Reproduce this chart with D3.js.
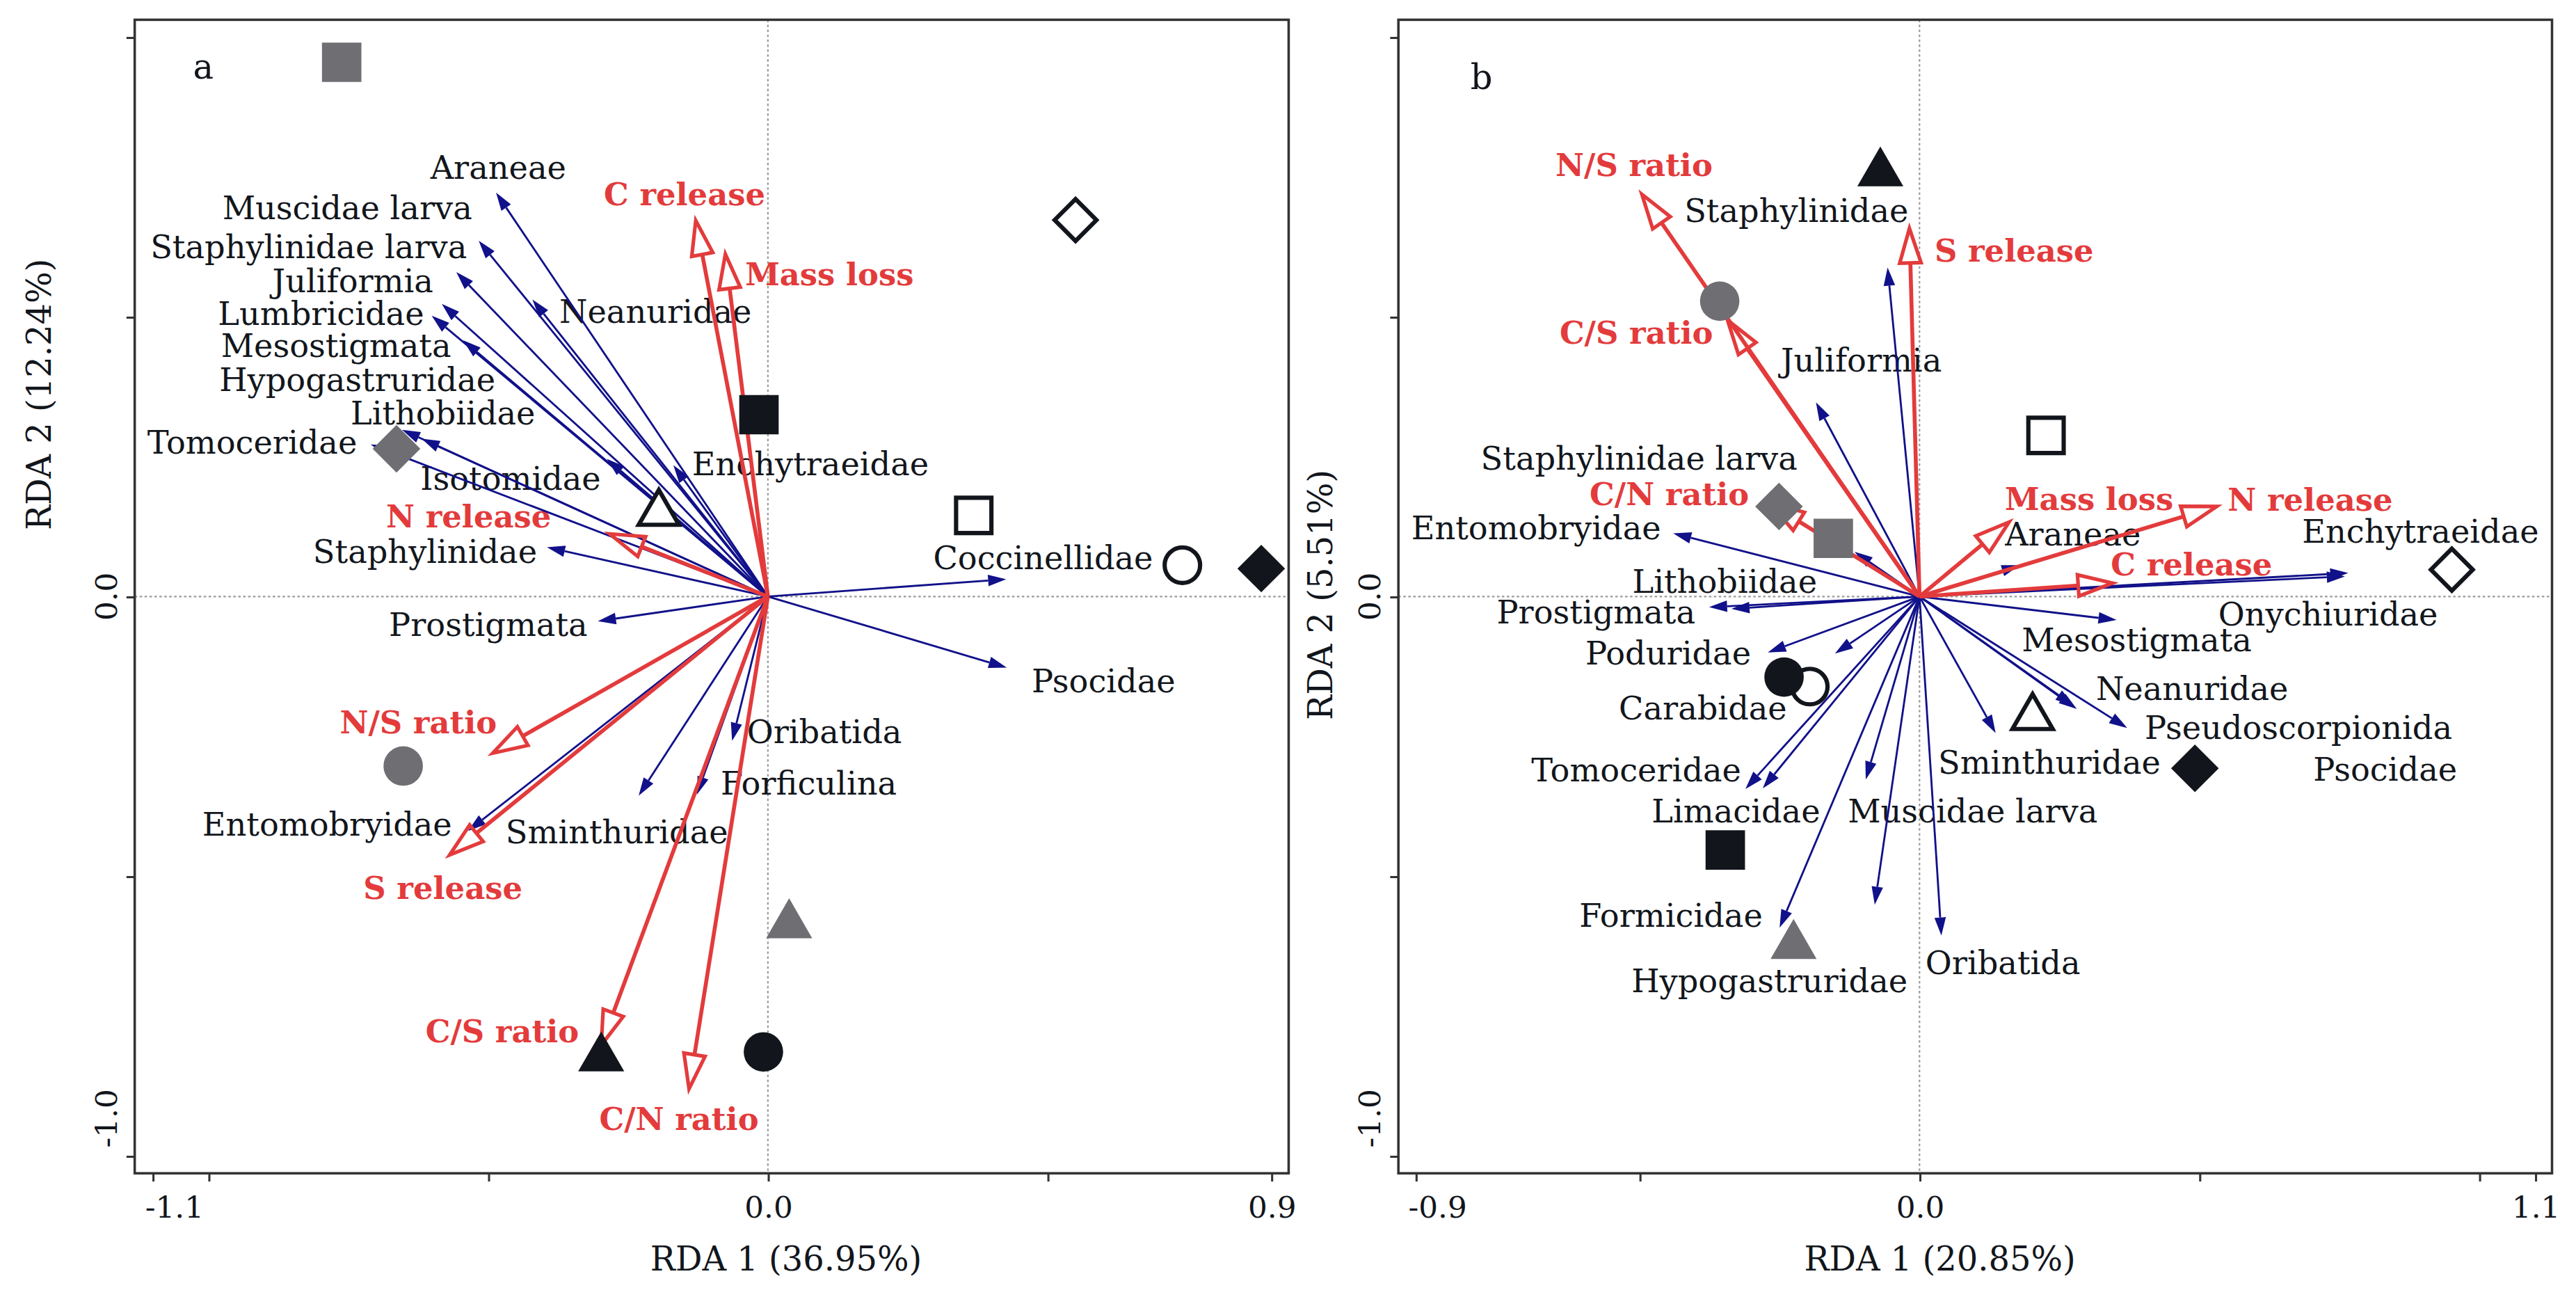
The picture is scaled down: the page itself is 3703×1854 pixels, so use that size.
<!DOCTYPE html>
<html>
<head>
<meta charset="utf-8">
<script src="https://cdn.jsdelivr.net/npm/d3@7"></script>
<style>
  body { margin: 0; background: #fff; }
  svg { display: block; }
</style>
</head>
<body>
<svg id="chart"></svg>
<script>
// ---- data (RDA scores) ----
const speciesA = [
  ["Araneae", -0.486, 0.722],
  ["Muscidae larva", -0.517, 0.636],
  ["Staphylinidae larva", -0.557, 0.580],
  ["Juliformia", -0.583, 0.523],
  ["Lumbricidae", -0.601, 0.502],
  ["Mesostigmata", -0.545, 0.458],
  ["Hypogastruridae", -0.619, 0.282],
  ["Lithobiidae", -0.654, 0.298],
  ["Tomoceridae", -0.710, 0.272],
  ["Neanuridae", -0.421, 0.531],
  ["Isotomidae", -0.288, 0.246],
  ["Enchytraeidae", -0.169, 0.235],
  ["Staphylinidae", -0.395, 0.088],
  ["Prostigmata", -0.304, -0.044],
  ["Entomobryidae", -0.536, -0.419],
  ["Sminthuridae", -0.231, -0.356],
  ["Oribatida", -0.064, -0.258],
  ["Forficulina", -0.127, -0.354],
  ["Coccinellidae", 0.426, 0.031],
  ["Psocidae", 0.427, -0.127]
];

const envA = [
  ["C release", -0.129, 0.672],
  ["Mass loss", -0.076, 0.612],
  ["N release", -0.283, 0.112],
  ["N/S ratio", -0.492, -0.280],
  ["S release", -0.569, -0.462],
  ["C/S ratio", -0.298, -0.802],
  ["C/N ratio", -0.141, -0.880]
];

// [shape, fill, x, y]
const sitesA = [
  ["square", "gray", -0.762, 0.955],
  ["diamond", "open", 0.550, 0.673],
  ["square", "black", -0.016, 0.325],
  ["square", "open", 0.368, 0.145],
  ["circle", "open", 0.741, 0.056],
  ["diamond", "black", 0.882, 0.050],
  ["diamond", "gray", -0.664, 0.264],
  ["triangle", "open", -0.195, 0.149],
  ["circle", "gray", -0.652, -0.303],
  ["triangle", "gray", 0.038, -0.587],
  ["triangle", "black", -0.298, -0.825],
  ["circle", "black", -0.008, -0.814]
];

const speciesB = [
  ["Staphylinidae", -0.057, 0.588],
  ["Juliformia", -0.185, 0.347],
  ["Staphylinidae larva", -0.116, 0.080],
  ["Entomobryidae", -0.440, 0.113],
  ["Lithobiidae", -0.336, -0.022],
  ["Prostigmata", -0.376, -0.019],
  ["Poduridae", -0.271, -0.100],
  ["Carabidae", -0.151, -0.102],
  ["Tomoceridae", -0.311, -0.344],
  ["Limacidae", -0.280, -0.343],
  ["Formicidae", -0.250, -0.592],
  ["Hypogastruridae", -0.080, -0.551],
  ["Muscidae larva", -0.096, -0.327],
  ["Oribatida", 0.039, -0.606],
  ["Sminthuridae", 0.136, -0.244],
  ["Pseudoscorpionida", 0.371, -0.235],
  ["Psocidae", 0.275, -0.195],
  ["Neanuridae", 0.281, -0.201],
  ["Mesostigmata", 0.352, -0.042],
  ["Onychiuridae", 0.760, 0.036],
  ["Enchytraeidae", 0.766, 0.042],
  ["Araneae", 0.179, 0.056]
];

const envB = [
  ["N/S ratio", -0.496, 0.719],
  ["C/S ratio", -0.343, 0.494],
  ["S release", -0.018, 0.658],
  ["C/N ratio", -0.268, 0.167],
  ["Mass loss", 0.160, 0.133],
  ["N release", 0.531, 0.161],
  ["C release", 0.345, 0.024]
];

const sitesB = [
  ["triangle", "black", -0.070, 0.757],
  ["circle", "gray", -0.357, 0.528],
  ["square", "open", 0.226, 0.288],
  ["diamond", "gray", -0.251, 0.161],
  ["square", "gray", -0.154, 0.104],
  ["circle", "open", -0.196, -0.161],
  ["circle", "black", -0.242, -0.144],
  ["square", "black", -0.347, -0.453],
  ["triangle", "gray", -0.225, -0.624],
  ["triangle", "open", 0.202, -0.216],
  ["diamond", "black", 0.492, -0.307],
  ["diamond", "open", 0.951, 0.048]
];

const xTicksA = [-1.1, -1.0, -0.5, 0.0, 0.5, 0.9];
const xTickLabelsA = ["-1.1", "", "", "0.0", "", "0.9"];
const xTicksB = [-0.9, -0.5, 0.0, 0.5, 1.0, 1.1];
const xTickLabelsB = ["-0.9", "", "0.0", "", "", "1.1"];
const yTicks = [1.0, 0.5, 0.0, -0.5, -1.0];
const yTickLabels = ["", "", "0.0", "", "-1.0"];

// label anchors (centre x, baseline y) in axis units
const labelPosA = {
  "Araneae": [-0.482, 0.747], "Muscidae larva": [-0.752, 0.675],
  "Staphylinidae larva": [-0.821, 0.605], "Juliformia": [-0.742, 0.544],
  "Lumbricidae": [-0.799, 0.486], "Mesostigmata": [-0.772, 0.428],
  "Hypogastruridae": [-0.734, 0.367], "Lithobiidae": [-0.581, 0.308],
  "Tomoceridae": [-0.922, 0.256], "Neanuridae": [-0.201, 0.489],
  "Isotomidae": [-0.460, 0.191], "Enchytraeidae": [0.076, 0.217],
  "Staphylinidae": [-0.613, 0.060], "Prostigmata": [-0.500, -0.070],
  "Entomobryidae": [-0.788, -0.428], "Sminthuridae": [-0.270, -0.441],
  "Oribatida": [0.101, -0.262], "Forficulina": [0.073, -0.354],
  "Coccinellidae": [0.492, 0.049], "Psocidae": [0.600, -0.171],
  "C release": [-0.149, 0.700], "Mass loss": [0.110, 0.556],
  "N release": [-0.535, 0.123], "N/S ratio": [-0.625, -0.244],
  "S release": [-0.581, -0.541], "C/S ratio": [-0.475, -0.797],
  "C/N ratio": [-0.159, -0.953]
};
const labelPosB = {
  "N/S ratio": [-0.510, 0.752], "Staphylinidae": [-0.220, 0.670],
  "S release": [0.169, 0.599], "C/S ratio": [-0.506, 0.452],
  "Juliformia": [-0.104, 0.402], "Staphylinidae larva": [-0.501, 0.227],
  "C/N ratio": [-0.447, 0.163], "Entomobryidae": [-0.685, 0.103],
  "Lithobiidae": [-0.348, 0.007], "Prostigmata": [-0.578, -0.048],
  "Poduridae": [-0.449, -0.121], "Carabidae": [-0.387, -0.220],
  "Tomoceridae": [-0.506, -0.330], "Limacidae": [-0.328, -0.404],
  "Muscidae larva": [0.095, -0.404], "Formicidae": [-0.444, -0.590],
  "Hypogastruridae": [-0.268, -0.707], "Oribatida": [0.149, -0.675],
  "Sminthuridae": [0.232, -0.317], "Pseudoscorpionida": [0.677, -0.255],
  "Psocidae": [0.832, -0.329], "Neanuridae": [0.487, -0.185],
  "Mesostigmata": [0.388, -0.098], "Onychiuridae": [0.730, -0.052],
  "Enchytraeidae": [0.895, 0.096], "Araneae": [0.274, 0.091],
  "Mass loss": [0.303, 0.155], "N release": [0.698, 0.153],
  "C release": [0.486, 0.038]
};

// ---- drawing ----
const FONT = "'DejaVu Serif', 'Liberation Serif', serif";
const RED = "#e33b3c", BLUE = "#11118a", INK = "#12161c", GRAY = "#6e6e73";
const yDomain = [-1.031, 1.031], yRange = [714, 12];

const svg = d3.select("#chart")
    .attr("width", 3703).attr("height", 1854)
    .attr("viewBox", "0 0 1568 785");
svg.append("rect").attr("width", 1568).attr("height", 785).attr("fill", "#fff");

function headPath(x0, y0, x1, y1, len, wid) {
  let dx = x1 - x0, dy = y1 - y0, d = Math.hypot(dx, dy);
  let ux = dx / d, uy = dy / d;
  let bx = x1 - ux * len, by = y1 - uy * len;
  return {
    bx: bx, by: by,
    d: "M" + x1 + "," + y1 + "L" + (bx - uy * wid / 2) + "," + (by + ux * wid / 2) +
       "L" + (bx + uy * wid / 2) + "," + (by - ux * wid / 2) + "Z"
  };
}

function drawPanel(p) {
  let x = d3.scaleLinear().domain(p.xDomain).range(p.xRange);
  let y = d3.scaleLinear().domain(yDomain).range(yRange);
  let g = svg.append("g");

  // zero lines
  g.append("line").attr("x1", x(0)).attr("x2", x(0)).attr("y1", yRange[1]).attr("y2", yRange[0])
      .attr("stroke", "#999").attr("stroke-width", 0.9).attr("stroke-dasharray", "1.5,1.5");
  g.append("line").attr("x1", p.xRange[0]).attr("x2", p.xRange[1]).attr("y1", y(0)).attr("y2", y(0))
      .attr("stroke", "#999").attr("stroke-width", 0.9).attr("stroke-dasharray", "1.5,1.5");

  // x axis
  let gx = g.append("g")
      .attr("transform", "translate(0," + yRange[0] + ")")
      .call(d3.axisBottom(x).tickValues(p.xTicks)
        .tickFormat((d, i) => p.xLabels[i]).tickSize(5).tickSizeOuter(0).tickPadding(9));
  gx.select(".domain").remove();
  gx.selectAll(".tick line").attr("stroke", "#333").attr("stroke-width", 1.3);
  gx.selectAll(".tick text").attr("font-family", FONT).attr("font-size", 18.5).attr("fill", INK);
  gx.selectAll(".tick text").filter((d, i) => i === 0).attr("text-anchor", "start").attr("x", -5);

  // y axis
  let gy = g.append("g")
      .attr("transform", "translate(" + p.xRange[0] + ",0)")
      .call(d3.axisLeft(y).tickValues(yTicks).tickFormat("").tickSize(5).tickSizeOuter(0));
  gy.select(".domain").remove();
  gy.selectAll(".tick line").attr("stroke", "#333").attr("stroke-width", 1.3);
  yTicks.forEach((v, i) => {
    if (!yTickLabels[i]) return;
    let last = i === yTicks.length - 1;
    g.append("text")
        .attr("transform", "translate(" + (p.xRange[0] - 11) + "," + (last ? y(v) - 5 : y(v)) + ") rotate(-90)")
        .attr("text-anchor", last ? "start" : "middle")
        .attr("font-family", FONT).attr("font-size", 18.5).attr("fill", INK)
        .text(yTickLabels[i]);
  });

  // frame
  g.append("rect").attr("x", p.xRange[0]).attr("y", yRange[1])
      .attr("width", p.xRange[1] - p.xRange[0]).attr("height", yRange[0] - yRange[1])
      .attr("fill", "none").attr("stroke", "#333").attr("stroke-width", 1.5);

  // axis titles
  g.append("text").attr("x", p.xTitlePos[0]).attr("y", p.xTitlePos[1])
      .attr("text-anchor", "middle").attr("font-family", FONT).attr("font-size", 20.3).attr("fill", INK)
      .text(p.xTitle);
  g.append("text")
      .attr("transform", "translate(" + p.yTitlePos[0] + "," + p.yTitlePos[1] + ") rotate(-90)")
      .attr("text-anchor", "middle").attr("font-family", FONT).attr("font-size", 20.3).attr("fill", INK)
      .text(p.yTitle);
  g.append("text").attr("x", p.letterPos[0]).attr("y", p.letterPos[1])
      .attr("font-family", FONT).attr("font-size", 21).attr("fill", INK).text(p.letter);

  // labels
  g.selectAll(".sp-label").data(p.species).enter().append("text")
      .attr("x", d => x(p.labels[d[0]][0])).attr("y", d => y(p.labels[d[0]][1]))
      .attr("text-anchor", "middle").attr("font-family", FONT).attr("font-size", 19.6).attr("fill", INK)
      .text(d => d[0]);
  g.selectAll(".env-label").data(p.env).enter().append("text")
      .attr("x", d => x(p.labels[d[0]][0])).attr("y", d => y(p.labels[d[0]][1]))
      .attr("text-anchor", "middle").attr("font-family", FONT).attr("font-size", 19)
      .attr("font-weight", "bold").attr("fill", RED)
      .text(d => d[0]);

  let ox = x(0), oy = y(0);

  // species arrows
  p.species.forEach(d => {
    let tx = x(d[1]), ty = y(d[2]);
    let h = headPath(ox, oy, tx, ty, 11, 7);
    g.append("line").attr("x1", ox).attr("y1", oy).attr("x2", h.bx).attr("y2", h.by)
        .attr("stroke", BLUE).attr("stroke-width", 1.2);
    g.append("path").attr("d", h.d).attr("fill", BLUE);
  });

  // environmental arrows
  p.env.forEach(d => {
    let tx = x(d[1]), ty = y(d[2]);
    let h = headPath(ox, oy, tx, ty, 21, 13);
    g.append("line").attr("x1", ox).attr("y1", oy).attr("x2", h.bx).attr("y2", h.by)
        .attr("stroke", RED).attr("stroke-width", 2.4);
    g.append("path").attr("d", h.d).attr("fill", "none").attr("stroke", RED)
        .attr("stroke-width", 2.2).attr("stroke-linejoin", "miter");
  });

  // sample points
  const fills = { black: INK, gray: GRAY, open: "#fff" };
  p.sites.forEach(d => {
    let open = d[1] === "open";
    let sym, rot = 0;
    if (d[0] === "square") sym = d3.symbol(d3.symbolSquare, open ? 21.5 * 21.5 : 24 * 24);
    if (d[0] === "circle") sym = d3.symbol(d3.symbolCircle, open ? Math.PI * 10.8 * 10.8 : Math.PI * 12 * 12);
    if (d[0] === "triangle") sym = d3.symbol(d3.symbolTriangle, open ? 260 : 340);
    if (d[0] === "diamond") { sym = d3.symbol(d3.symbolSquare, open ? 18 * 18 : 20.5 * 20.5); rot = 45; }
    g.append("path").attr("d", sym())
        .attr("transform", "translate(" + x(d[2]) + "," + y(d[3]) + ") rotate(" + rot + ")")
        .attr("fill", fills[d[1]])
        .attr("stroke", open ? INK : "none").attr("stroke-width", open ? 2.6 : 0);
  });
}

drawPanel({
  letter: "a", letterPos: [117.5, 48],
  xDomain: [-1.132, 0.931], xRange: [82, 784.4],
  xTicks: xTicksA, xLabels: xTickLabelsA,
  species: speciesA, env: envA, sites: sitesA, labels: labelPosA,
  xTitle: "RDA 1 (36.95%)", xTitlePos: [478.5, 773],
  yTitle: "RDA 2 (12.24%)", yTitlePos: [31, 240]
});
drawPanel({
  letter: "b", letterPos: [895, 54],
  xDomain: [-0.931, 1.130], xRange: [851.2, 1553.4],
  xTicks: xTicksB, xLabels: xTickLabelsB,
  species: speciesB, env: envB, sites: sitesB, labels: labelPosB,
  xTitle: "RDA 1 (20.85%)", xTitlePos: [1180.8, 773],
  yTitle: "RDA 2 (5.51%)", yTitlePos: [811, 362]
});
</script>
</body>
</html>
